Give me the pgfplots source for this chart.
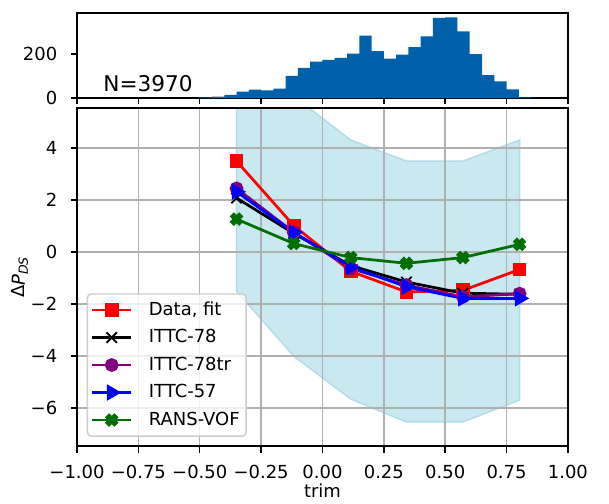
\documentclass[border=0pt]{standalone}
\usepackage{pgfplots}
\pgfplotsset{compat=1.18}
\usepackage{fontspec}
\setmainfont{DejaVu Sans}
\definecolor{histblue}{RGB}{0,96,170}
\definecolor{bandfill}{RGB}{202,232,239}
\definecolor{bandedge}{RGB}{176,220,234}
\definecolor{gridgray}{RGB}{176,176,176}
\definecolor{mpurple}{RGB}{128,0,128}
\definecolor{mgreen}{RGB}{0,110,0}
\definecolor{legedge}{RGB}{204,204,204}
\pgfdeclareplotmark{Xfill}{%
  \pgftransformrotate{45}%
  \pgfpathmoveto{\pgfpoint{-0.4\pgfplotmarksize}{-\pgfplotmarksize}}%
  \pgfpathlineto{\pgfpoint{0.4\pgfplotmarksize}{-\pgfplotmarksize}}%
  \pgfpathlineto{\pgfpoint{0.4\pgfplotmarksize}{-0.4\pgfplotmarksize}}%
  \pgfpathlineto{\pgfpoint{\pgfplotmarksize}{-0.4\pgfplotmarksize}}%
  \pgfpathlineto{\pgfpoint{\pgfplotmarksize}{0.4\pgfplotmarksize}}%
  \pgfpathlineto{\pgfpoint{0.4\pgfplotmarksize}{0.4\pgfplotmarksize}}%
  \pgfpathlineto{\pgfpoint{0.4\pgfplotmarksize}{\pgfplotmarksize}}%
  \pgfpathlineto{\pgfpoint{-0.4\pgfplotmarksize}{\pgfplotmarksize}}%
  \pgfpathlineto{\pgfpoint{-0.4\pgfplotmarksize}{0.4\pgfplotmarksize}}%
  \pgfpathlineto{\pgfpoint{-\pgfplotmarksize}{0.4\pgfplotmarksize}}%
  \pgfpathlineto{\pgfpoint{-\pgfplotmarksize}{-0.4\pgfplotmarksize}}%
  \pgfpathlineto{\pgfpoint{-0.4\pgfplotmarksize}{-0.4\pgfplotmarksize}}%
  \pgfpathclose
  \pgfusepathqfillstroke}
\begin{document}
\begin{tikzpicture}
\pgfplotsset{
  every axis/.append style={
    scale only axis, width=267.8pt, xmin=-1, xmax=1,
    axis line style={line width=0.8pt},
    tick style={line width=0.8pt, black}, major tick length=3.5pt, tick align=outside,
    xtick pos=bottom, ytick pos=left,
    tick label style={font=\fontsize{9.8pt}{11pt}\selectfont},
    label style={font=\fontsize{9.8pt}{11pt}\selectfont},
    xtick={-1,-0.75,-0.5,-0.25,0,0.25,0.5,0.75,1},
    xticklabel style={anchor=north, inner sep=0pt, yshift=-6.5pt},
    yticklabel style={anchor=east, inner sep=0pt, xshift=-7.1pt},
  }
}
\begin{axis}[
  at={(0,0)}, anchor=south west, height=184.4pt,
  ymin=-7.46, ymax=5.54,
  ytick={-6,-4,-2,0,2,4}, yticklabels={−6,−4,−2,0,2,4},
  xticklabels={−1.00,−0.75,−0.50,−0.25,0.00,0.25,0.50,0.75,1.00},
  grid=major, grid style={gridgray, line width=0.8pt},
  set layers,
  xlabel={trim},
  xlabel style={at={(axis description cs:0.5,-0.132)}, anchor=center},
  ylabel={Δ\textit{P}\textsubscript{\textit{DS}}},
  ylabel style={at={(axis description cs:-0.1161,0.5)}, anchor=center},
  legend style={at={(0.0198,0.0275)}, anchor=south west, draw=legedge, line width=0.8pt,
    fill=white, fill opacity=0.8, text opacity=1, rounded corners=2pt,
    inner xsep=2pt, inner ysep=2.5pt, row sep=2.5pt, column sep=7.5pt,
    font=\fontsize{9.8pt}{11pt}\selectfont,
    nodes={inner sep=1.5pt, text height=7.5pt, text depth=2pt},
    cells={anchor=west}},
  legend image code/.code={\draw[mark repeat=2,mark phase=2,#1,opacity=1] plot coordinates {(0pt,0pt) (10.5pt,0pt) (21pt,0pt)};},
]
\addplot[on layer=axis background, fill=bandfill, draw=bandedge, line width=0.8pt, forget plot]
  coordinates {(-0.35,5.54) (-0.054,5.54) (0.115,4.31) (0.342,3.5) (0.572,3.5) (0.803,4.31)
               (0.803,-5.69) (0.572,-6.53) (0.342,-6.53) (0.115,-5.65) (-0.117,-4.0) (-0.35,-1.5)} -- cycle;
\addplot[red, line width=1.5pt, mark=square*, mark size=3pt, mark options={fill=red}]
  coordinates {(-0.35,3.5) (-0.117,1.02) (0.115,-0.74) (0.342,-1.53) (0.572,-1.47) (0.803,-0.67)};
\addlegendentry{Data, fit}
\addplot[black, line width=1.5pt, mark=x, mark size=4pt, mark options={line width=1pt}]
  coordinates {(-0.35,2.08) (-0.117,0.72) (0.115,-0.52) (0.342,-1.15) (0.572,-1.58) (0.803,-1.62)};
\addlegendentry{ITTC-78}
\addplot[mpurple, line width=1.5pt, mark=*, mark size=3pt, mark options={fill=mpurple}]
  coordinates {(-0.35,2.45) (-0.117,0.76) (0.115,-0.63) (0.342,-1.27) (0.572,-1.72) (0.803,-1.6)};
\addlegendentry{ITTC-78tr}
\addplot[blue, line width=1.5pt, mark=triangle*, mark size=3.7pt, mark options={fill=blue, rotate=-90}]
  coordinates {(-0.35,2.32) (-0.117,0.76) (0.115,-0.57) (0.342,-1.33) (0.572,-1.78) (0.803,-1.78)};
\addlegendentry{ITTC-57}
\addplot[mgreen, line width=1.5pt, mark=Xfill, mark size=3.4pt, mark options={fill=mgreen, line width=0.5pt}]
  coordinates {(-0.35,1.27) (-0.117,0.33) (0.115,-0.21) (0.342,-0.43) (0.572,-0.21) (0.803,0.3)};
\addlegendentry{RANS-VOF}
\end{axis}
\begin{axis}[
  at={(0,189.85pt)}, anchor=south west, height=46.4pt,
  ymin=0, ymax=387.5, ytick={0,200}, yticklabels={0,200},
  xticklabels={},
]
\addplot[ybar interval, fill=histblue, draw=none] coordinates {
(-0.50,3) (-0.45,6) (-0.40,14) (-0.35,29) (-0.30,38) (-0.25,35) (-0.20,43) (-0.15,101)
(-0.10,137) (-0.05,166) (0.00,174) (0.05,183) (0.10,203) (0.15,285) (0.20,214) (0.25,180)
(0.30,198) (0.35,232) (0.40,281) (0.45,365) (0.50,368) (0.55,304) (0.60,200) (0.65,104)
(0.70,76) (0.75,40) (0.80,3) (0.85,0)};
\node[anchor=base west, inner sep=0pt, font=\fontsize{11.8pt}{14pt}\selectfont] at (axis cs:-0.894,32) {N=3970};
\end{axis}
\pgfresetboundingbox
\path (-42.0pt,-31.1pt) rectangle (290.2pt,243.35pt);
\end{tikzpicture}
\end{document}
